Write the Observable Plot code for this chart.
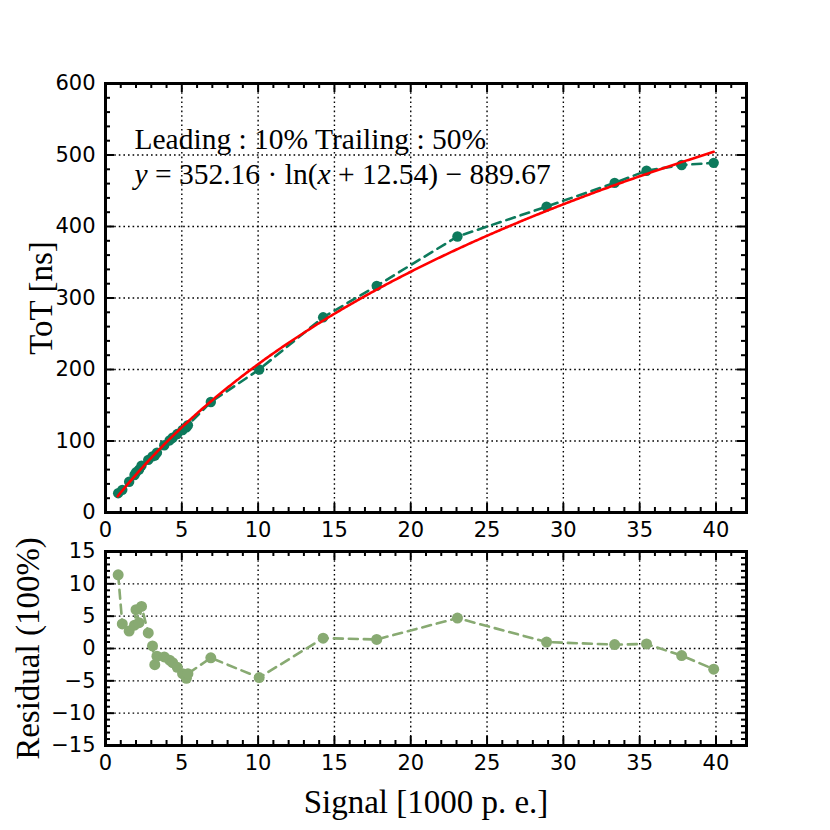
<!DOCTYPE html>
<html><head><meta charset="utf-8">
<script src="https://cdn.jsdelivr.net/npm/d3@7"></script>
<script src="https://cdn.jsdelivr.net/npm/@observablehq/plot@0.6"></script>
<style>
html,body{margin:0;padding:0;background:#fff;}
#chart{position:relative;width:830px;height:830px;background:#fff;}
#chart svg{position:absolute;left:0;overflow:visible;max-width:none;}
</style></head><body><div id="chart"></div>
<script>
// ---- data ----
const signal = [0.83, 1.1, 1.55, 1.9, 2.0, 2.2, 2.36, 2.8, 3.08, 3.23, 3.37, 3.85, 4.2, 4.4, 4.7, 5.05, 5.3, 5.4, 6.9, 10.07, 14.26, 17.77, 23.06, 28.9, 33.36, 35.45, 37.75, 39.85];
const tot = [27, 31.7, 43, 52.4, 56.2, 60, 65.6, 73.6, 78.5, 79.6, 83.7, 94, 100.8, 104.5, 109.7, 115.4, 119.3, 122, 154.5, 200, 273, 317, 386, 427.8, 461, 478, 486, 489];
const residual = [11.4, 3.8, 2.7, 3.6, 6.0, 4.0, 6.5, 2.4, 0.4, -2.5, -1.2, -1.3, -1.8, -2.2, -2.9, -3.9, -4.6, -3.9, -1.44, -4.5, 1.6, 1.4, 4.7, 1.0, 0.6, 0.7, -1.1, -3.2];
const fitParams = [352.16, 12.54, -889.67]; // y = a*ln(x+b)+c
const fitRange = [0.8, 39.85];
const xTicks = [0, 5, 10, 15, 20, 25, 30, 35, 40];
const totTicks = [0, 100, 200, 300, 400, 500, 600];
const resTicks = [-15, -10, -5, 0, 5, 10, 15];
const annotLine1 = "Leading : 10% Trailing : 50%";
const eqParts = [["y", true], [" = 352.16 · ln(", false], ["x", true], [" + 12.54) − 889.67", false]];
const xLabel = "Signal [1000 p. e.]";
const yLabelTop = "ToT [ns]";
const yLabelBottom = "Residual (100%)";

const pts = signal.map((s, i) => ({signal: s, tot: tot[i], residual: residual[i]}));
const fit = d3.range(fitRange[0], fitRange[1] + 1e-9, 0.1).concat([fitRange[1]])
  .map(x => ({x, y: fitParams[0] * Math.log(x + fitParams[1]) + fitParams[2]}));

const topColor = "#0d7a5c", resColor = "#88aa72";
const serif = "Liberation Serif";
const gridStyle = {stroke: "black", strokeWidth: 1.4, strokeDasharray: "1.6,3", strokeOpacity: 1};

function ticks(xMaj, xMin, yMaj, yMin, fh, fw) {
  const M = 9, m = 5, st = {stroke: "black", strokeWidth: 2, strokeOpacity: 1};
  return [
    Plot.tickX(xMaj, {x: d => d, insetTop: fh - M, ...st}),
    Plot.tickX(xMaj, {x: d => d, insetBottom: fh - M, ...st}),
    Plot.tickX(xMin, {x: d => d, insetTop: fh - m, ...st}),
    Plot.tickX(xMin, {x: d => d, insetBottom: fh - m, ...st}),
    Plot.tickY(yMaj, {y: d => d, insetRight: fw - M, ...st}),
    Plot.tickY(yMaj, {y: d => d, insetLeft: fw - M, ...st}),
    Plot.tickY(yMin, {y: d => d, insetRight: fw - m, ...st}),
    Plot.tickY(yMin, {y: d => d, insetLeft: fw - m, ...st})
  ];
}
const xMinor = d3.range(0, 43, 1).filter(v => v % 5 !== 0);
const ML = 105, MR = 84;
const FW = 830 - ML - MR;

// ---- top panel ----
const topH = 545, topMT = 83, topMB = 33;
const topFH = topH - topMT - topMB;
const topPlot = Plot.plot({
  width: 830, height: topH,
  marginLeft: ML, marginRight: MR, marginTop: topMT, marginBottom: topMB,
  style: {fontFamily: "DejaVu Sans", fontSize: "21px", color: "black", background: "transparent", overflow: "visible"},
  x: {domain: [0, 42], ticks: xTicks, tickSize: 0, tickPadding: 10, label: null},
  y: {domain: [0, 600], ticks: totTicks, tickSize: 0, tickPadding: 10, label: null},
  marks: [
    Plot.ruleX(xTicks.slice(1), gridStyle),
    Plot.ruleY(totTicks.slice(1, -1), gridStyle),
    Plot.line(pts, {x: "signal", y: "tot", stroke: topColor, strokeWidth: 2.6, strokeDasharray: "9,6"}),
    Plot.dot(pts, {x: "signal", y: "tot", r: 5.2, fill: topColor, stroke: "none"}),
    Plot.line(fit, {x: "x", y: "y", stroke: "#ff0000", strokeWidth: 2.6}),
    ...ticks(xTicks, xMinor, totTicks, d3.range(0, 601, 20).filter(v => v % 100 !== 0), topFH, FW),
    Plot.frame({stroke: "black", strokeWidth: 3}),
    Plot.text([annotLine1], {frameAnchor: "top-left", dx: 29, dy: 45, text: d => d, textAnchor: "start", lineAnchor: "top", fontSize: 29.5, fontFamily: serif, fill: "black"}),
    Plot.text([eqParts.map(p => p[0]).join("")], {frameAnchor: "top-left", dx: 29, dy: 80, text: d => d, textAnchor: "start", lineAnchor: "top", fontSize: 29.5, fontFamily: serif, fill: "black"}),
    Plot.text([yLabelTop], {frameAnchor: "left", dx: -64, rotate: -90, text: d => d, textAnchor: "middle", lineAnchor: "middle", fontSize: 33, fontFamily: serif, fill: "black"})
  ]
});

// ---- bottom panel ----
const botH = 285, botMT = 6, botMB = 85;
const botFH = botH - botMT - botMB;
const botPlot = Plot.plot({
  width: 830, height: botH,
  marginLeft: ML, marginRight: MR, marginTop: botMT, marginBottom: botMB,
  style: {fontFamily: "DejaVu Sans", fontSize: "21px", color: "black", background: "transparent", overflow: "visible"},
  x: {domain: [0, 42], ticks: xTicks, tickSize: 0, tickPadding: 10, label: null},
  y: {domain: [-15, 15], ticks: resTicks, tickSize: 0, tickPadding: 10, label: null},
  marks: [
    Plot.ruleX(xTicks.slice(1), gridStyle),
    Plot.ruleY(resTicks.slice(1, -1), gridStyle),
    Plot.line(pts, {x: "signal", y: "residual", stroke: resColor, strokeWidth: 2.6, strokeDasharray: "9,6"}),
    Plot.dot(pts, {x: "signal", y: "residual", r: 5.5, fill: resColor, stroke: "none"}),
    ...ticks(xTicks, xMinor, resTicks, d3.range(-15, 16, 1).filter(v => v % 5 !== 0), botFH, FW),
    Plot.frame({stroke: "black", strokeWidth: 3}),
    Plot.text([yLabelBottom], {frameAnchor: "left", dx: -77, rotate: -90, text: d => d, textAnchor: "middle", lineAnchor: "middle", fontSize: 33, fontFamily: serif, fill: "black"}),
    Plot.text([xLabel], {frameAnchor: "bottom", dy: 57, text: d => d, textAnchor: "middle", lineAnchor: "middle", fontSize: 33, fontFamily: serif, fill: "black"})
  ]
});

const chart = document.getElementById("chart");
topPlot.style.top = "0px";
botPlot.style.top = topH + "px";
chart.appendChild(topPlot);
chart.appendChild(botPlot);

// italic variables in the equation
const eqStr = eqParts.map(p => p[0]).join("");
topPlot.querySelectorAll("text").forEach(t => {
  if (t.textContent === eqStr) {
    t.textContent = "";
    for (const [s, it] of eqParts) {
      const ts = document.createElementNS("http://www.w3.org/2000/svg", "tspan");
      ts.textContent = s;
      if (it) ts.setAttribute("font-style", "italic");
      t.appendChild(ts);
    }
  }
});
</script>
</body></html>
